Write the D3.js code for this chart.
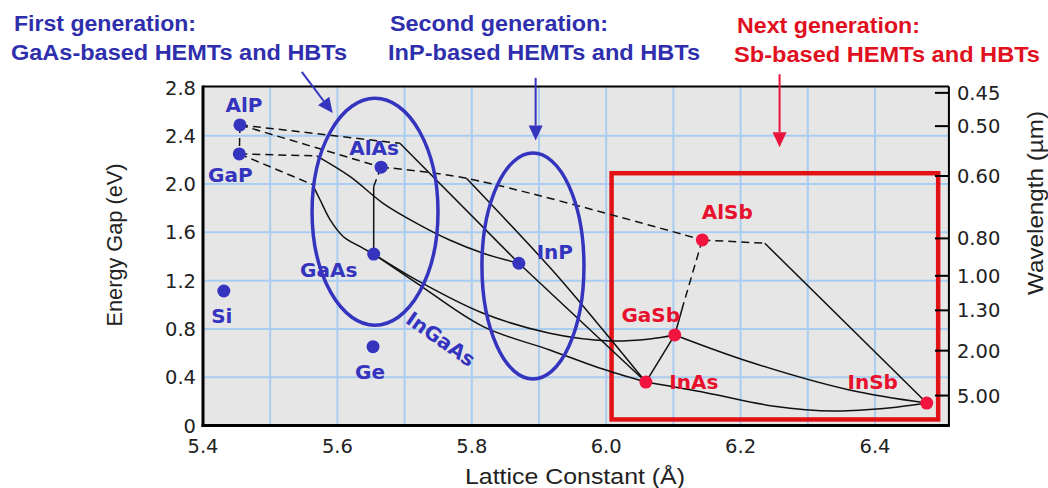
<!DOCTYPE html>
<html><head><meta charset="utf-8">
<script src="https://cdn.jsdelivr.net/npm/d3@7"></script>
<style>body{margin:0;background:#fff}svg{display:block}</style>
</head><body>
<svg id="c" width="1048" height="488"></svg>
<script>
// ---------- data ----------
const compoundNames   = ["AlP","GaP","AlAs","GaAs","InP","Si","Ge","AlSb","GaSb","InAs","InSb"];
const latticeConstant = [5.455,5.454,5.665,5.654,5.870,5.431,5.653,6.143,6.102,6.059,6.477];
const energyGap       = [2.49, 2.25, 2.14, 1.42, 1.344,1.114,0.653,1.537,0.75, 0.36, 0.186];
const compoundGroup   = ["old","old","old","old","old","old","old","new","new","new","new"];
const labelDx = [4,-9,-7,-45,36,-2,-3,25,-24,48,-54];
const labelDy = [-13,28,-12,23,-4,32,32,-21,-13,7,-14];

const xTicks = [5.4,5.6,5.8,6.0,6.2,6.4];
const xGrid  = [5.5,5.6,5.7,5.8,5.9,6.0,6.1,6.2,6.3,6.4];
const yTicks = [0,0.4,0.8,1.2,1.6,2.0,2.4,2.8];
const yGrid  = [0.4,0.8,1.2,1.6,2.0,2.4];
const wavelengthTicks = [0.45,0.50,0.60,0.80,1.00,1.30,2.00,5.00];

// ternary curves [lattice, gap]
const alpGap      = [[5.455,2.49],[5.454,2.25]];
const alpAlas     = [[5.455,2.49],[5.665,2.14]];
const alpInpInd   = [[5.455,2.49],[5.693,2.338]];
const alpInpDir   = [[5.693,2.338],[5.870,1.344]];
const gapInpInd   = [[5.454,2.25],[5.569,2.233]];
const gapInpDir   = [[5.569,2.233],[5.619,2.061],[5.668,1.841],[5.718,1.675],[5.767,1.537],[5.817,1.427],[5.870,1.344]];
const gapGaasInd  = [[5.454,2.25],[5.563,1.996]];
const gapGaasDir  = [[5.563,1.996],[5.574,1.872],[5.589,1.706],[5.609,1.564],[5.634,1.481],[5.654,1.42]];
const alasGaasInd = [[5.665,2.14],[5.654,1.98]];
const alasGaasDir = [[5.654,1.98],[5.654,1.42]];
const alasAlsb    = [[5.665,2.14],[5.792,2.048],[6.143,1.537]];
const alasInasDir = [[5.792,2.048],[5.916,1.31],[5.985,0.86],[6.059,0.36]];
const inpInas     = [[5.870,1.344],[6.059,0.36]];
const gaasInas    = [[5.654,1.42],[5.718,1.18],[5.817,0.819],[5.916,0.626],[5.990,0.476],[6.059,0.36]];
const gaasGasb    = [[5.654,1.42],[5.718,1.205],[5.817,0.93],[5.916,0.764],[6.005,0.70],[6.065,0.717],[6.102,0.75]];
const inasGasb    = [[6.059,0.36],[6.102,0.75]];
const alsbGasbInd = [[6.143,1.537],[6.115,1.006]];
const alsbGasbDir = [[6.115,1.006],[6.102,0.75]];
const alsbInsbInd = [[6.143,1.537],[6.236,1.51]];
const alsbInsbDir = [[6.236,1.51],[6.477,0.186]];
const gasbInsb    = [[6.102,0.75],[6.214,0.526],[6.362,0.294],[6.477,0.186]];
const inasInsb    = [[6.059,0.36],[6.15,0.27],[6.25,0.16],[6.34,0.12],[6.42,0.145],[6.477,0.186]];

const dashedCurves = [alpGap,alpAlas,alpInpInd,gapInpInd,gapGaasInd,alasGaasInd,alasAlsb,alsbGasbInd,alsbInsbInd];
const solidCurves  = [alpInpDir,gapInpDir,gapGaasDir,alasGaasDir,alasInasDir,inpInas,gaasInas,gaasGasb,inasGasb,alsbGasbDir,alsbInsbDir,gasbInsb,inasInsb];

// ---------- chart ----------
const svg = d3.select("#c");
const blue = "#3434bf", red = "#e8112d", boxRed = "#e01216";
const x = d3.scaleLinear().domain([5.4,6.4]).range([203,875]);
const y = d3.scaleLinear().domain([0,2.8]).range([425.5,87.5]);
const xMax = 6.51;
const L = x(5.4), R = x(xMax), T = y(2.8)-1, B = y(0);

svg.append("rect").attr("x",L).attr("y",T).attr("width",R-L).attr("height",B-T).attr("fill","#e6e6e6");

const grid = svg.append("g").attr("stroke","#a8cdf0").attr("stroke-width",2);
grid.selectAll(".gx").data(xGrid).join("line").attr("x1",d=>x(d)).attr("x2",d=>x(d)).attr("y1",T).attr("y2",B);
grid.selectAll(".gy").data(yGrid).join("line").attr("x1",L).attr("x2",R).attr("y1",d=>y(d)).attr("y2",d=>y(d));

// red box
const box = {x0:6.008,x1:6.494,y0:0.05,y1:2.09};
svg.append("rect").attr("x",x(box.x0)).attr("y",y(box.y1)).attr("width",x(box.x1)-x(box.x0)).attr("height",y(box.y0)-y(box.y1))
  .attr("fill","none").attr("stroke",boxRed).attr("stroke-width",4.5);

// curves
const line = d3.line().x(d=>x(d[0])).y(d=>y(d[1])).curve(d3.curveCatmullRom.alpha(0.5));
svg.append("g").selectAll("path").data(dashedCurves).join("path").attr("d",line)
  .attr("fill","none").attr("stroke","#111").attr("stroke-width",1.5).attr("stroke-dasharray","8,5");
svg.append("g").selectAll("path").data(solidCurves).join("path").attr("d",line)
  .attr("fill","none").attr("stroke","#111").attr("stroke-width",1.5);

// ellipses
const ellipses = [{cx:5.656,cy:1.771,rx:0.0937,ry:0.940},{cx:5.891,cy:1.321,rx:0.0759,ry:0.936}];
svg.append("g").selectAll("ellipse").data(ellipses).join("ellipse")
  .attr("cx",d=>x(d.cx)).attr("cy",d=>y(d.cy))
  .attr("rx",d=>x(d.cx+d.rx)-x(d.cx)).attr("ry",d=>y(d.cy-d.ry)-y(d.cy))
  .attr("fill","none").attr("stroke",blue).attr("stroke-width",3.5);

// frame
const fr = svg.append("g").attr("stroke","#000");
fr.append("line").attr("x1",L).attr("x2",R).attr("y1",T).attr("y2",T).attr("stroke-width",2);
fr.append("line").attr("x1",R).attr("x2",R).attr("y1",T).attr("y2",B).attr("stroke-width",2);
fr.append("line").attr("x1",L).attr("x2",L).attr("y1",T-1).attr("y2",B+1.5).attr("stroke-width",3);
fr.append("line").attr("x1",L-1.5).attr("x2",R+1).attr("y1",B).attr("y2",B).attr("stroke-width",3);

// tick labels
const tickFont = "'DejaVu Sans', sans-serif";
svg.append("g").selectAll("text").data(yTicks).join("text")
  .attr("x",196).attr("y",d=>y(d)).attr("dy","0.36em").attr("text-anchor","end")
  .attr("font-family",tickFont).attr("font-size",19.5).attr("fill","#222")
  .text(d=>d===0?"0":d3.format(".1f")(d));
svg.append("g").selectAll("text").data(xTicks).join("text")
  .attr("x",d=>x(d)).attr("y",453).attr("text-anchor","middle")
  .attr("font-family",tickFont).attr("font-size",19.5).attr("fill","#222")
  .text(d=>d3.format(".1f")(d));

// right wavelength axis
const wl = svg.append("g");
wl.selectAll("line").data(wavelengthTicks).join("line")
  .attr("x1",R-14).attr("x2",R).attr("y1",d=>y(1.24/d)).attr("y2",d=>y(1.24/d))
  .attr("stroke","#000").attr("stroke-width",2);
wl.selectAll("text").data(wavelengthTicks).join("text")
  .attr("x",R+8).attr("y",d=>y(1.24/d)).attr("dy","0.36em")
  .attr("font-family",tickFont).attr("font-size",19.5).attr("fill","#222")
  .text(d=>d3.format(".2f")(d));

// axis titles
const titleFont = "'Liberation Sans', Arial, sans-serif";
svg.append("text").attr("transform","translate(122,245) rotate(-90)").attr("text-anchor","middle")
  .attr("font-family",titleFont).attr("font-size",22).attr("fill","#222")
  .attr("textLength",163).attr("lengthAdjust","spacingAndGlyphs")
  .text("Energy Gap (eV)");
svg.append("text").attr("x",575).attr("y",484).attr("text-anchor","middle")
  .attr("font-family",titleFont).attr("font-size",22).attr("fill","#222")
  .attr("textLength",220).attr("lengthAdjust","spacingAndGlyphs")
  .text("Lattice Constant (Å)");
svg.append("text").attr("transform","translate(1043,203) rotate(-90)").attr("text-anchor","middle")
  .attr("font-family",titleFont).attr("font-size",22).attr("fill","#222")
  .attr("textLength",184).attr("lengthAdjust","spacingAndGlyphs")
  .text("Wavelength (µm)");

// points
const pts = compoundNames.map((n,i)=>({n,lx:latticeConstant[i],e:energyGap[i],g:compoundGroup[i],dx:labelDx[i],dy:labelDy[i]}));
svg.append("g").selectAll("circle").data(pts).join("circle")
  .attr("cx",d=>x(d.lx)).attr("cy",d=>y(d.e)).attr("r",6.5)
  .attr("fill",d=>d.g==="old"?blue:"#f0143f");
svg.append("g").selectAll("text").data(pts).join("text")
  .attr("x",d=>x(d.lx)+d.dx).attr("y",d=>y(d.e)+d.dy).attr("text-anchor","middle")
  .attr("font-family","'DejaVu Sans', sans-serif").attr("font-weight","bold").attr("font-size",20)
  .attr("fill",d=>d.g==="old"?blue:red).text(d=>d.n);

// InGaAs label
svg.append("text").attr("transform",`translate(${x(5.754)},${y(0.717)}) rotate(35)`).attr("text-anchor","middle").attr("dy","0.36em")
  .attr("font-family","'DejaVu Sans', sans-serif").attr("font-weight","bold").attr("font-size",20).attr("fill",blue)
  .text("InGaAs");

// arrows
const arrows = [
  {x0:5.547,y0:2.929,x1:5.593,y1:2.589,c:blue},
  {x0:5.895,y0:2.88,x1:5.895,y1:2.36,c:blue},
  {x0:6.258,y0:2.91,x1:6.258,y1:2.305,c:"#e8143c"}
];
arrows.forEach(a=>{
  const X0=x(a.x0),Y0=y(a.y0),X1=x(a.x1),Y1=y(a.y1);
  const ang=Math.atan2(Y1-Y0,X1-X0), hl=15, hw=7;
  const bx=X1-hl*Math.cos(ang), by=Y1-hl*Math.sin(ang);
  svg.append("line").attr("x1",X0).attr("y1",Y0).attr("x2",bx).attr("y2",by).attr("stroke",a.c).attr("stroke-width",2);
  const px=-Math.sin(ang)*hw, py=Math.cos(ang)*hw;
  svg.append("path").attr("d",`M${X1},${Y1}L${bx+px},${by+py}L${bx-px},${by-py}Z`).attr("fill",a.c);
});

// headings
const heads = [
  {t:"First generation:", x:14, y:31, w:182, c:"#2f2fae"},
  {t:"GaAs-based HEMTs and HBTs", x:11, y:60, w:336, c:"#2f2fae"},
  {t:"Second generation:", x:390, y:31, w:218, c:"#2f2fae"},
  {t:"InP-based HEMTs and HBTs", x:388, y:60, w:312, c:"#2f2fae"},
  {t:"Next generation:", x:737, y:33, w:183, c:"#e0101e"},
  {t:"Sb-based HEMTs and HBTs", x:734, y:62, w:306, c:"#e0101e"}
];
svg.append("g").selectAll("text").data(heads).join("text")
  .attr("x",d=>d.x).attr("y",d=>d.y).attr("textLength",d=>d.w).attr("lengthAdjust","spacingAndGlyphs")
  .attr("font-family","'Liberation Sans Narrow','Liberation Sans',Arial,sans-serif").attr("font-weight","bold").attr("font-size",22)
  .attr("fill",d=>d.c).text(d=>d.t);
</script>
</body></html>
